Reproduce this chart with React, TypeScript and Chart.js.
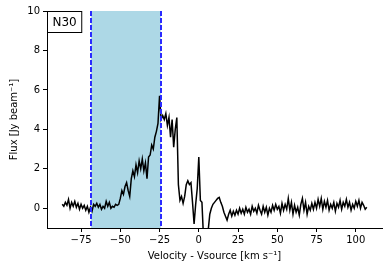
import React, { useEffect, useRef } from 'react';
import { Chart, registerables } from 'chart.js';

Chart.register(...registerables);

const velocity: number[] = [
  -87, -86, -85, -84, -83, -82, -81, -80, -79, -78,
  -77, -76, -75, -74, -73, -72, -71, -70, -69, -68,
  -67, -66, -65, -64, -63, -62, -61, -60, -59, -58,
  -57, -56, -55, -54, -53, -52, -51, -50, -49, -48,
  -47, -46, -45, -44, -43, -42, -41, -40, -39, -38,
  -37, -36, -35, -34, -33, -32, -31, -30, -29, -28,
  -27, -26, -25, -24, -23, -22, -21, -20, -19, -18,
  -17, -16, -15, -14, -13, -12, -11, -10, -9, -8,
  -7, -6, -5, -4, -3, -2, -1, 0, 1, 2,
  3, 4, 5, 6, 7, 8, 9, 10, 11, 12,
  13, 14, 15, 16, 17, 18, 19, 20, 21, 22,
  23, 24, 25, 26, 27, 28, 29, 30, 31, 32,
  33, 34, 35, 36, 37, 38, 39, 40, 41, 42,
  43, 44, 45, 46, 47, 48, 49, 50, 51, 52,
  53, 54, 55, 56, 57, 58, 59, 60, 61, 62,
  63, 64, 65, 66, 67, 68, 69, 70, 71, 72,
  73, 74, 75, 76, 77, 78, 79, 80, 81, 82,
  83, 84, 85, 86, 87, 88, 89, 90, 91, 92,
  93, 94, 95, 96, 97, 98, 99, 100, 101, 102,
  103, 104, 105, 106, 107,
];

const flux: number[] = [
  0.2, 0.1, 0.3, 0.15, 0.45, 0.0, 0.3, 0.1, 0.35, 0.05,
  0.25, -0.05, 0.2, 0.0, 0.15, -0.1, 0.1, -0.2, 0.05, -0.15,
  0.2, 0.1, 0.25, 0.05, 0.2, -0.05, 0.1, 0.0, 0.35, 0.1,
  0.3, 0.0, 0.1, 0.05, 0.2, 0.15, 0.2, 0.5, 0.9, 0.7,
  1.1, 1.3, 0.9, 0.6, 1.5, 1.9, 1.6, 2.2, 1.8, 2.4,
  2.0, 2.5, 1.9, 2.3, 1.5, 2.6, 2.7, 3.2, 3.0, 3.6,
  3.9, 4.3, 5.7, 4.5, 4.7, 4.5, 4.8, 4.2, 4.6, 3.6,
  4.5, 3.1, 4.0, 4.6, 1.2, 0.4, 0.6, 0.25, 0.6, 1.2,
  1.4, 1.2, 1.3, 0.3, -0.8, 0.2, 1.0, 2.6, 0.4, 0.3,
  -1.5, -1.8, -1.6, -1.1, -0.3, 0.0, 0.2, 0.3, 0.4, 0.5,
  0.55, 0.3, 0.1, -0.2, -0.4, -0.6, -0.3, -0.1, -0.4, -0.15,
  -0.35, -0.1, -0.3, 0.0, -0.25, -0.05, -0.3, 0.05, -0.2, -0.05,
  -0.3, 0.1, -0.15, 0.0, -0.25, 0.15, -0.1, -0.3, 0.1, -0.2,
  0.05, -0.35, 0.0, -0.2, 0.15, -0.1, 0.2, -0.05, 0.1, -0.25,
  0.25, -0.1, 0.2, -0.05, 0.5, -0.1, 0.3, -0.3, 0.15, -0.2,
  0.05, -0.35, 0.2, 0.5, -0.1, 0.3, -0.3, 0.1, -0.1, 0.25,
  -0.05, 0.3, 0.0, 0.45, 0.1, 0.5, -0.05, 0.35, 0.05, 0.4,
  -0.1, 0.2, 0.0, 0.3, -0.15, 0.25, 0.05, 0.4, -0.05, 0.3,
  0.1, 0.45, 0.05, 0.3, -0.1, 0.2, 0.0, 0.35, 0.1, 0.4,
  0.0, 0.3, 0.15, -0.05, 0.05,
];

const xTicks: number[] = [-75, -50, -25, 0, 25, 50, 75, 100];
const yTicks: number[] = [0, 2, 4, 6, 8, 10];
const xRange: number[] = [-96.7, 116.7];
const yRange: number[] = [-1, 10];
const band: number[] = [-68.6, -24.2];
const regionLabel = 'N30';
const xTitle = 'Velocity - Vsource [km s\u207B\u00B9]';
const yTitle = 'Flux [Jy beam\u207B\u00B9]';

const FONT = '"DejaVu Sans", sans-serif';

const bandPlugin = {
  id: 'bandPlugin',
  beforeDatasetsDraw(chart: any) {
    const { ctx, chartArea, scales } = chart;
    const x0 = scales.x.getPixelForValue(band[0]);
    const x1 = scales.x.getPixelForValue(band[1]);
    ctx.save();
    ctx.fillStyle = '#add8e6';
    ctx.fillRect(x0, chartArea.top, x1 - x0, chartArea.bottom - chartArea.top);
    ctx.restore();
  },
  afterDatasetsDraw(chart: any) {
    const { ctx, chartArea, scales } = chart;
    ctx.save();
    ctx.strokeStyle = '#2a2aff';
    ctx.lineWidth = 2;
    ctx.setLineDash([5, 2]);
    for (const v of band) {
      const x = Math.round(scales.x.getPixelForValue(v));
      ctx.beginPath();
      ctx.moveTo(x, chartArea.top);
      ctx.lineTo(x, chartArea.bottom);
      ctx.stroke();
    }
    ctx.restore();
  },
  afterDraw(chart: any) {
    const { ctx, chartArea } = chart;
    ctx.save();
    ctx.font = `12px ${FONT}`;
    const w = ctx.measureText(regionLabel).width;
    const bx = chartArea.left + 0.5;
    const by = chartArea.top + 0.5;
    const bw = w + 10;
    const bh = 21;
    ctx.fillStyle = '#ffffff';
    ctx.fillRect(bx, by, bw, bh);
    ctx.strokeStyle = '#000000';
    ctx.lineWidth = 1;
    ctx.strokeRect(bx, by, bw, bh);
    ctx.fillStyle = '#000000';
    ctx.textBaseline = 'middle';
    ctx.fillText(regionLabel, bx + 5, by + bh / 2 + 0.5);
    ctx.restore();
  },
};

export default function App() {
  const ref = useRef<HTMLCanvasElement | null>(null);

  useEffect(() => {
    document.body.style.margin = '0';
    const canvas = ref.current;
    if (!canvas) return;
    const points = velocity.map((v, i) => ({ x: v, y: flux[i] }));
    const chart = new Chart(canvas, {
      type: 'line',
      data: {
        datasets: [
          {
            data: points,
            borderColor: '#000000',
            borderWidth: 1.5,
            pointRadius: 0,
            tension: 0,
            fill: false,
          },
        ],
      },
      options: {
        animation: false,
        responsive: false,
        maintainAspectRatio: false,
        layout: { padding: { top: 11, right: 6, left: 8, bottom: 10 } },
        plugins: {
          legend: { display: false },
          tooltip: { enabled: false },
        },
        scales: {
          x: {
            type: 'linear',
            min: xRange[0],
            max: xRange[1],
            afterBuildTicks: (axis: any) => {
              axis.ticks = xTicks.map((v) => ({ value: v }));
            },
            afterFit: (axis: any) => {
              axis.height = 34;
            },
            ticks: {
              color: '#000000',
              font: { family: FONT, size: 10 },
              padding: 2,
              maxRotation: 0,
              autoSkip: false,
              callback: (v: any) => String(v).replace('-', '\u2212'),
            },
            grid: {
              drawOnChartArea: false,
              drawTicks: true,
              tickLength: 4,
              color: '#000000',
            },
            border: { color: '#000000', width: 1 },
            title: {
              display: true,
              text: xTitle,
              color: '#000000',
              font: { family: FONT, size: 10 },
              padding: { top: 3, bottom: 0 },
            },
          },
          y: {
            type: 'linear',
            min: yRange[0],
            max: yRange[1],
            afterBuildTicks: (axis: any) => {
              axis.ticks = yTicks.map((v) => ({ value: v }));
            },
            afterFit: (axis: any) => {
              axis.width = 39;
            },
            ticks: {
              color: '#000000',
              font: { family: FONT, size: 10 },
              padding: 3,
              autoSkip: false,
            },
            grid: {
              drawOnChartArea: false,
              drawTicks: true,
              tickLength: 4,
              color: '#000000',
            },
            border: { color: '#000000', width: 1 },
            title: {
              display: true,
              text: yTitle,
              color: '#000000',
              font: { family: FONT, size: 10 },
              padding: { top: 0, bottom: 4 },
            },
          },
        },
      },
      plugins: [bandPlugin],
    });
    return () => chart.destroy();
  }, []);

  return (
    <div style={{ width: 388, height: 272 }}>
      <canvas ref={ref} width={388} height={272} style={{ width: 388, height: 272, display: 'block' }} />
    </div>
  );
}
